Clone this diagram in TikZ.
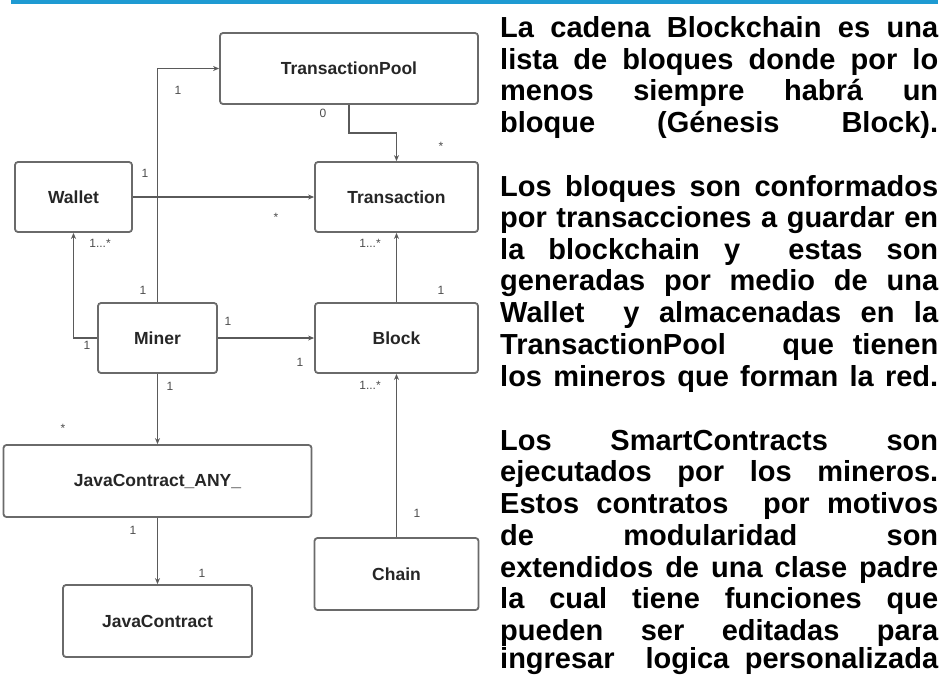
\documentclass[tikz,border=0pt]{standalone}
\usepackage{fontspec}
\setmainfont{Liberation Sans}
\usetikzlibrary{arrows.meta}
\definecolor{barblue}{HTML}{1E9AD2}
\definecolor{boxgray}{HTML}{6A6A6A}
\definecolor{linegray}{HTML}{5A5A5A}
\begin{document}
\begin{tikzpicture}[x=1pt,y=-1pt,
  umlbox/.style={draw=boxgray, line width=1.8pt, rounded corners=3pt, fill=white, inner sep=0pt,
    font=\fontsize{17.5}{20}\selectfont\bfseries, text=black!85},
  conn/.style={draw=linegray, line width=1.3pt, -{Stealth[length=6pt,width=5pt]}},
  mult/.style={font=\fontsize{12}{14}\selectfont, text=black!70, inner sep=0pt},
  para/.style={anchor=base west, inner sep=0pt, font=\fontsize{29}{32}\selectfont\bfseries}]
\useasboundingbox (0,0) rectangle (942,675);
\clip (0,0) rectangle (942,675);
\fill[barblue] (11,0) rectangle (938,4);

% boxes
\node[umlbox, minimum width=258pt, minimum height=71pt] (tp) at (349,68.5) {TransactionPool};
\node[umlbox, minimum width=117pt, minimum height=70pt] (wallet) at (73.5,197) {Wallet};
\node[umlbox, minimum width=163pt, minimum height=70pt] (trans) at (396.5,197) {Transaction};
\node[umlbox, minimum width=119pt, minimum height=70pt] (miner) at (157.5,338) {Miner};
\node[umlbox, minimum width=163pt, minimum height=70pt] (block) at (396.5,338) {Block};
\node[umlbox, minimum width=308pt, minimum height=72pt] (jca) at (157.5,481) {JavaContract\_ANY\_};
\node[umlbox, minimum width=189pt, minimum height=72pt] (jc) at (157.5,621) {JavaContract};
\node[umlbox, minimum width=164pt, minimum height=72pt] (chain) at (396.5,574) {Chain};

% connectors
\draw[conn] (miner.north) |- (tp.west);
\draw[conn] (wallet.east) -- (trans.west);
\draw[conn] (tp.south) -- ++(0,28) -| (trans.north);
\draw[conn] (block.north) -- (trans.south);
\draw[conn] (miner.west) -| (wallet.south);
\draw[conn] (miner.east) -- (block.west);
\draw[conn] (miner.south) -- (jca.north);
\draw[conn] (chain.north) -- (block.south);
\draw[conn] (jca.south) -- (jc.north);

% multiplicities
\node[mult] (m1) at (178,90) {1};
\node[mult] (m2) at (143,290) {1};
\node[mult] (m3) at (145,173) {1};
\node[mult] (m4) at (276,217) {*};
\node[mult] (m5) at (323,113) {0};
\node[mult] (m6) at (441,146) {*};
\node[mult] (m7) at (370,243) {1...*};
\node[mult] (m8) at (441,290) {1};
\node[mult] (m9) at (100,243) {1...*};
\node[mult] (m10) at (87,345) {1};
\node[mult] (m11) at (228,321) {1};
\node[mult] (m12) at (300,362) {1};
\node[mult] (m13) at (170,386) {1};
\node[mult] (m14) at (63,428) {*};
\node[mult] (m15) at (370,385) {1...*};
\node[mult] (m16) at (417,513) {1};
\node[mult] (m17) at (133,530) {1};
\node[mult] (m18) at (202,573) {1};

% text
\newcommand{\jl}[2]{\node[para] at (500,#1) {\makebox[438pt][s]{#2}};}
\jl{37.3}{La cadena Blockchain es una}
\jl{69}{lista de bloques donde por lo}
\jl{100.5}{menos siempre habrá un}
\jl{132}{bloque (Génesis Block).}
\jl{196.5}{Los bloques son conformados}
\jl{227.5}{por transacciones a guardar en}
\jl{259}{la blockchain y\ \ estas son}
\jl{290.5}{generadas por medio de una}
\jl{322.5}{Wallet\ \ y almacenadas en la}
\jl{354.5}{TransactionPool\ \ \ que tienen}
\jl{386.5}{los mineros que forman la red.}
\jl{450}{Los SmartContracts son}
\jl{481.7}{ejecutados por los mineros.}
\jl{513.4}{Estos contratos\ \ por motivos}
\jl{545}{de modularidad son}
\jl{577}{extendidos de una clase padre}
\jl{608.7}{la cual tiene funciones que}
\jl{640.4}{pueden ser editadas para}
\jl{668.5}{ingresar\ \ logica personalizada}
\end{tikzpicture}
\end{document}
